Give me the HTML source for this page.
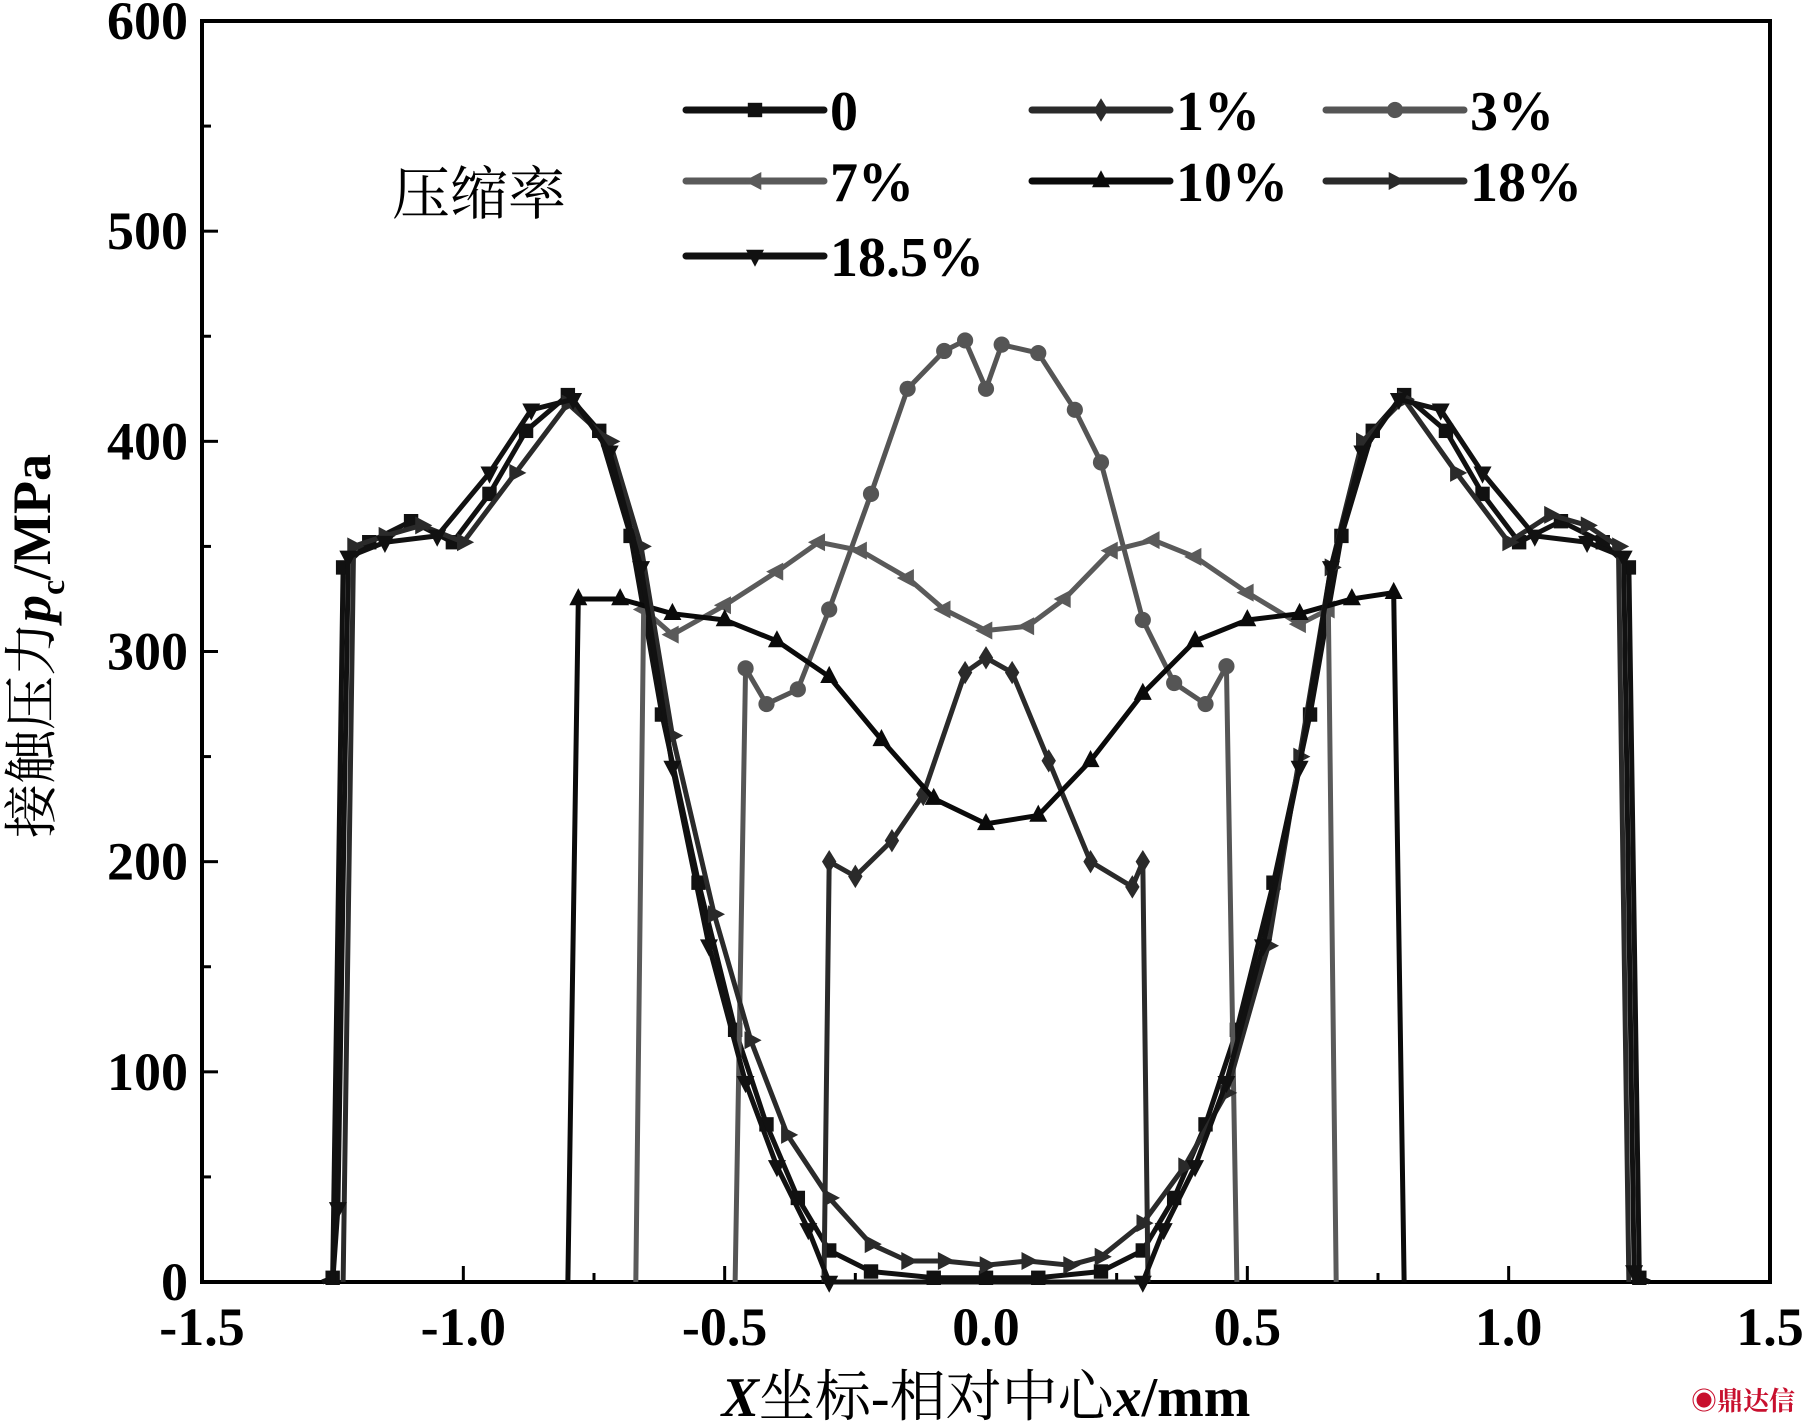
<!DOCTYPE html>
<html><head><meta charset="utf-8"><style>
html,body{margin:0;padding:0;background:#fff;}
svg{display:block;}
text{font-family:"Liberation Serif","Noto Serif CJK SC",serif;}
</style></head><body>
<svg id="chart" width="1808" height="1424" viewBox="0 0 1808 1424">
<g id="axes"></g><g id="series"></g><g id="legend"></g>
<text x="392" y="214" font-size="58" font-family="Liberation Serif, Noto Serif CJK SC, serif">压缩率</text>
<text x="986" y="1416" text-anchor="middle" font-size="56"><tspan font-style="italic" font-weight="bold">X</tspan>坐标-相对中心<tspan font-style="italic" font-weight="bold">x</tspan><tspan font-weight="bold">/mm</tspan></text>
<text transform="translate(50,646) rotate(-90)" text-anchor="middle" font-size="54">接触压力<tspan font-style="italic" font-weight="bold">p</tspan><tspan font-weight="bold" font-size="34" dy="14">c</tspan><tspan font-weight="bold" dy="-14">/MPa</tspan></text>
<text x="1795" y="1410" text-anchor="end" font-size="26" fill="#c8102e" font-weight="bold">◉鼎达信</text>
</svg>
<script>
const xTicks=[-1.5,-1.0,-0.5,0.0,0.5,1.0,1.5];
const xTickLabels=["-1.5","-1.0","-0.5","0.0","0.5","1.0","1.5"];
const yTicks=[0,100,200,300,400,500,600];
const yTickLabels=["0","100","200","300","400","500","600"];
const seriesNames=["0","1%","3%","7%","10%","18%","18.5%"];
const s0=[[-1.27,0],[-1.25,2],[-1.23,340],[-1.18,352],[-1.1,362],[-1.02,352],[-0.95,375],[-0.88,405],[-0.8,422],[-0.74,405],[-0.68,355],[-0.62,270],[-0.55,190],[-0.48,120],[-0.42,75],[-0.36,40],[-0.3,15],[-0.22,5],[-0.1,2],[0,2],[0.1,2],[0.22,5],[0.3,15],[0.36,40],[0.42,75],[0.48,120],[0.55,190],[0.62,270],[0.68,355],[0.74,405],[0.8,422],[0.88,405],[0.95,375],[1.02,352],[1.1,362],[1.18,352],[1.23,340],[1.25,2],[1.27,0]];
const s1=[[-0.31,0],[-0.3,200],[-0.25,193],[-0.18,210],[-0.12,232],[-0.04,290],[0,297],[0.05,290],[0.12,248],[0.2,200],[0.28,188],[0.3,200],[0.31,0]];
const s2=[[-0.48,0],[-0.46,292],[-0.42,275],[-0.36,282],[-0.3,320],[-0.22,375],[-0.15,425],[-0.08,443],[-0.04,448],[0,425],[0.03,446],[0.1,442],[0.17,415],[0.22,390],[0.3,315],[0.36,285],[0.42,275],[0.46,293],[0.48,0]];
const s3=[[-0.67,0],[-0.655,320],[-0.6,308],[-0.5,322],[-0.4,338],[-0.32,352],[-0.24,348],[-0.15,335],[-0.08,320],[0,310],[0.08,312],[0.15,325],[0.24,348],[0.32,353],[0.4,345],[0.5,328],[0.6,313],[0.655,320],[0.67,0]];
const s4=[[-0.8,0],[-0.78,325],[-0.7,325],[-0.6,318],[-0.5,315],[-0.4,305],[-0.3,288],[-0.2,258],[-0.1,230],[0,218],[0.1,222],[0.2,248],[0.3,280],[0.4,305],[0.5,315],[0.6,318],[0.7,325],[0.78,328],[0.8,0]];
const s5=[[-1.23,0],[-1.21,350],[-1.15,355],[-1.08,360],[-1.0,352],[-0.9,385],[-0.8,418],[-0.72,400],[-0.66,350],[-0.6,260],[-0.52,175],[-0.45,115],[-0.38,70],[-0.3,40],[-0.22,18],[-0.15,10],[-0.08,10],[0,8],[0.08,10],[0.16,8],[0.22,12],[0.3,28],[0.38,55],[0.46,90],[0.54,160],[0.6,250],[0.66,340],[0.72,400],[0.8,420],[0.9,385],[1.0,352],[1.08,365],[1.15,360],[1.21,350],[1.23,0]];
const s6=[[-1.25,0],[-1.24,35],[-1.22,345],[-1.15,352],[-1.05,355],[-0.95,385],[-0.87,415],[-0.79,420],[-0.72,395],[-0.66,340],[-0.6,245],[-0.53,160],[-0.46,95],[-0.4,55],[-0.34,25],[-0.3,0],[0.3,0],[0.34,25],[0.4,55],[0.46,95],[0.53,160],[0.6,245],[0.66,340],[0.72,395],[0.79,420],[0.87,415],[0.95,385],[1.05,355],[1.15,352],[1.22,345],[1.24,5],[1.25,0]];
const seriesData=[s0,s1,s2,s3,s4,s5,s6];
const colors=["#111","#2a2a2a","#555","#5a5a5a","#0a0a0a","#2a2a2a","#111"];
const markers=["square","diamond","circle","left","up","right","down"];
const L=202,R=1770,T=21,B=1282;
const xs=v=>L+(v+1.5)/3*(R-L);
const ys=v=>B-v/600*(B-T);
const NS="http://www.w3.org/2000/svg";
function mk(tag,attrs,parent){const e=document.createElementNS(NS,tag);for(const k in attrs)e.setAttribute(k,attrs[k]);parent.appendChild(e);return e;}
const axes=document.getElementById('axes');
const frame=mk('rect',{x:L,y:T,width:R-L,height:B-T,fill:'none',stroke:'#000','stroke-width':4},axes);


for(let i=0;i<xTicks.length;i++){
  const x=xs(xTicks[i]);
  const t=mk('line',{x1:x,y1:B,x2:x,y2:B-16,stroke:'#000','stroke-width':3},axes);
  
  
  const lb=mk('text',{x:x,y:1345,'text-anchor':'middle','font-size':54,'font-weight':'bold'},axes);
  lb.textContent=xTickLabels[i];
  
  
  if(i<xTicks.length-1){const mx=xs(xTicks[i]+0.25);
    const m=mk('line',{x1:mx,y1:B,x2:mx,y2:B-9,stroke:'#000','stroke-width':3},axes);
    
    }
}
for(let i=0;i<yTicks.length;i++){
  const y=ys(yTicks[i]);
  const t=mk('line',{x1:L,y1:y,x2:L+16,y2:y,stroke:'#000','stroke-width':3},axes);
  
  
  const lb=mk('text',{x:188,y:y+18,'text-anchor':'end','font-size':54,'font-weight':'bold'},axes);
  lb.textContent=yTickLabels[i];
  
  
  if(i<yTicks.length-1){const my=ys(yTicks[i]+50);
    const m=mk('line',{x1:L,y1:my,x2:L+9,y2:my,stroke:'#000','stroke-width':3},axes);
    
    }
}
function marker(type,x,y,c,g){
  const s=9;let p;
  if(type==='square')p=mk('rect',{x:x-s*0.8,y:y-s*0.8,width:s*1.6,height:s*1.6,fill:c},g);
  else if(type==='circle')p=mk('circle',{cx:x,cy:y,r:s*0.9,fill:c},g);
  else{let pts;
    if(type==='diamond')pts=[[x,y-s*1.3],[x+s*0.8,y],[x,y+s*1.3],[x-s*0.8,y]];
    if(type==='up')pts=[[x,y-s*1.2],[x+s,y+s*0.7],[x-s,y+s*0.7]];
    if(type==='down')pts=[[x,y+s*1.2],[x+s,y-s*0.7],[x-s,y-s*0.7]];
    if(type==='left')pts=[[x-s*1.2,y],[x+s*0.7,y-s],[x+s*0.7,y+s]];
    if(type==='right')pts=[[x+s*1.2,y],[x-s*0.7,y-s],[x-s*0.7,y+s]];
    p=mk('polygon',{points:pts.map(q=>q.join(',')).join(' '),fill:c},g);}
  return p;
}
const sg=document.getElementById('series');
seriesData.forEach((d,i)=>{
  const g=mk('g',{},sg);
  
  
  const pl=mk('polyline',{points:d.map(p=>xs(p[0])+','+ys(p[1])).join(' '),fill:'none',stroke:colors[i],'stroke-width':5,'stroke-linejoin':'round'},g);
  
  
  d.forEach((p,j)=>{ if(j===0||j===d.length-1) return;
    const m=marker(markers[i],xs(p[0]),ys(p[1]),colors[i],g);
    
    });
});
const lg=document.getElementById('legend');
const lpos=[[686,110],[1032,110],[1326,110],[686,181],[1032,181],[1326,181],[686,256]];
seriesNames.forEach((n,i)=>{
  const [x,y]=lpos[i];
  const g=mk('g',{},lg);
  
  
  mk('line',{x1:x,y1:y,x2:x+138,y2:y,stroke:colors[i],'stroke-width':7,'stroke-linecap':'round'},g);
  marker(markers[i],x+69,y,colors[i],g);
  const t=mk('text',{x:x+144,y:y+20,'font-size':56,'font-weight':'bold'},g);
  t.textContent=n;
});
</script>
</body></html>
